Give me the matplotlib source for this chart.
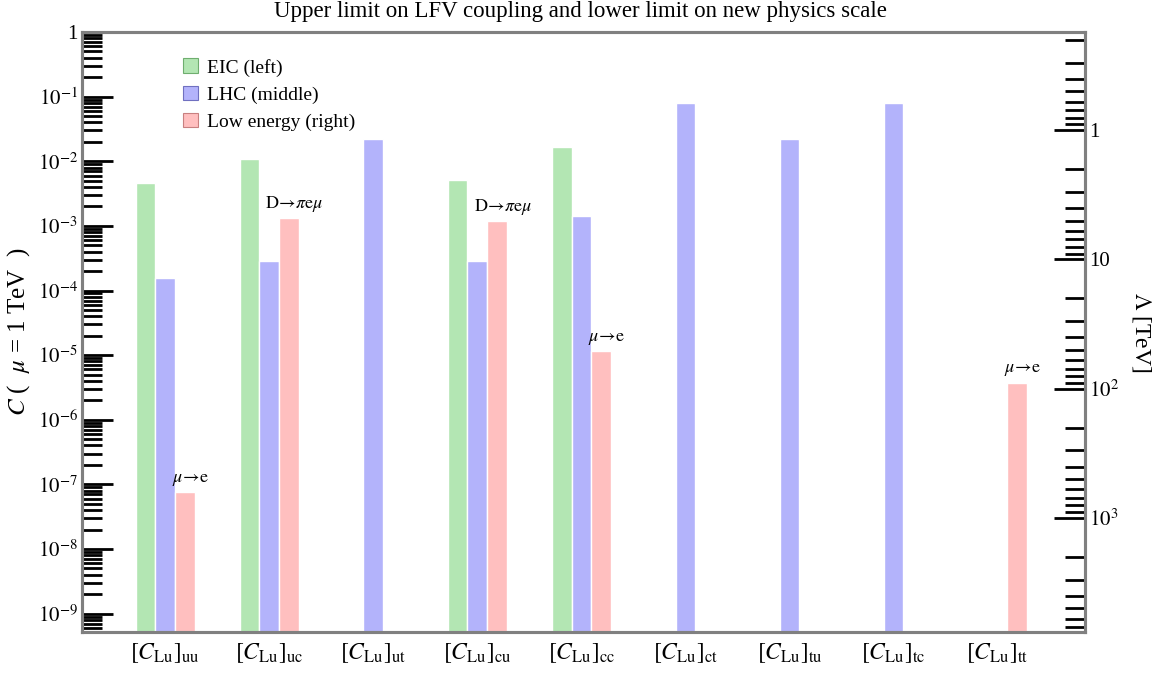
import numpy as np
import matplotlib
matplotlib.use("Agg")
import matplotlib.pyplot as plt
from matplotlib.patches import Patch
from matplotlib.ticker import FixedLocator, FixedFormatter, LogLocator, NullFormatter

plt.rcParams['font.family'] = ['Liberation Serif', 'DejaVu Serif']
plt.rcParams['mathtext.fontset'] = 'stix'

# couplings (upper limits on C at mu = 1 TeV), nan = no bound shown
labels = ['uu', 'uc', 'ut', 'cu', 'cc', 'ct', 'tu', 'tc', 'tt']
eic = [4.6e-3, 1.09e-2, np.nan, 5.2e-3, 1.67e-2, np.nan, np.nan, np.nan, np.nan]
lhc = [1.58e-4, 2.9e-4, 2.2e-2, 2.9e-4, 1.43e-3, 8.0e-2, 2.2e-2, 8.0e-2, np.nan]
low = [7.5e-8, 1.33e-3, np.nan, 1.2e-3, 1.17e-5, np.nan, np.nan, np.nan, 3.76e-6]
low_proc = [r'$\mu\!\rightarrow\!\mathrm{e}$', r'$\mathrm{D}\!\rightarrow\!\pi\mathrm{e}\mu$', '',
            r'$\mathrm{D}\!\rightarrow\!\pi\mathrm{e}\mu$', r'$\mu\!\rightarrow\!\mathrm{e}$', '', '', '',
            r'$\mu\!\rightarrow\!\mathrm{e}$']

series = [('EIC (left)', eic, '#b3e6b3', '#6fae6f'),
          ('LHC (middle)', lhc, '#b3b3fb', '#7070c0'),
          ('Low energy (right)', low, '#ffbfbf', '#c88080')]

k = 0.246 ** 2 / 2  # Lambda = v / sqrt(2 C)
ymin, ymax = 5.2e-10, 1.0

fig = plt.figure(figsize=(11.6, 6.75), dpi=100)
ax = fig.add_axes([0.0707, 0.0637, 0.8646, 0.8889])
ax.set_yscale('log')
ax.set_ylim(ymin, ymax)
ax.set_xlim(-0.80, 8.84)

x = np.arange(len(labels))
w = 0.19
for j, (name, vals, fc, ec) in enumerate(series):
    vals = np.array(vals)
    m = ~np.isnan(vals)
    ax.bar(x[m] + (j - 1) * w, vals[m], width=w, bottom=1e-12, color=fc,
           edgecolor='white', linewidth=1.0, zorder=2)

low_arr = np.array(low)
for i in range(len(labels)):
    if low_proc[i] and not np.isnan(low_arr[i]):
        ax.annotate(low_proc[i], (x[i] + w, low_arr[i]), xytext=(4, 3),
                    textcoords='offset points', ha='center', va='bottom', fontsize=13)

ax.set_xticks(x)
ax.set_xticklabels([r'$[C_{\mathrm{Lu}}]_{\mathrm{%s}}$' % s for s in labels], fontsize=17)
ax.tick_params(axis='x', length=0, pad=7)

major = [10.0 ** e for e in range(-9, 1)]
major_lbl = ['$10^{%d}$' % e for e in range(-9, 0)] + ['1']
ax.yaxis.set_major_locator(FixedLocator(major))
ax.yaxis.set_major_formatter(FixedFormatter(major_lbl))
ax.yaxis.set_minor_locator(LogLocator(base=10, subs=np.arange(2, 10), numticks=20))
ax.yaxis.set_minor_formatter(NullFormatter())
ax.tick_params(axis='y', which='major', direction='in', length=22, width=2.0,
               color='black', labelsize=15, pad=3)
ax.tick_params(axis='y', which='minor', direction='in', length=14.5, width=2.0, color='black')
ax.set_ylabel(r'$C$ (  $\mu$ = 1 TeV  )', fontsize=18, labelpad=4)

for sp in ax.spines.values():
    sp.set_color('#808080')
    sp.set_linewidth(2.2)

# right axis: new physics scale
ax2 = ax.twinx()
ax2.set_yscale('log')
ax2.set_ylim(np.sqrt(k / ymin), np.sqrt(k / ymax))
ax2.yaxis.set_major_locator(FixedLocator([1, 10, 100, 1000]))
ax2.yaxis.set_major_formatter(FixedFormatter(['1', '10', '$10^{2}$', '$10^{3}$']))
ax2.yaxis.set_minor_locator(LogLocator(base=10, subs=np.arange(2, 10), numticks=20))
ax2.yaxis.set_minor_formatter(NullFormatter())
ax2.tick_params(axis='y', which='major', direction='in', length=22, width=2.0,
                color='black', labelsize=15, pad=3)
ax2.tick_params(axis='y', which='minor', direction='in', length=14.5, width=2.0, color='black')
ax2.set_ylabel(r'$\Lambda$ [TeV]', fontsize=17, rotation=-90, labelpad=24)
for sp in ax2.spines.values():
    sp.set_color('#808080')
    sp.set_linewidth(2.2)

handles = [Patch(facecolor=fc, edgecolor=ec, linewidth=0.8, label=name)
           for name, vals, fc, ec in series]
ax.legend(handles=handles, loc='upper left', bbox_to_anchor=(0.083, 0.985), frameon=False,
          fontsize=14, handlelength=0.8, handleheight=0.8, labelspacing=0.45, handletextpad=0.45)

fig.suptitle('Upper limit on LFV coupling and lower limit on new physics scale',
             fontsize=16.5, y=0.998)

fig.savefig('out.png', dpi=100)
